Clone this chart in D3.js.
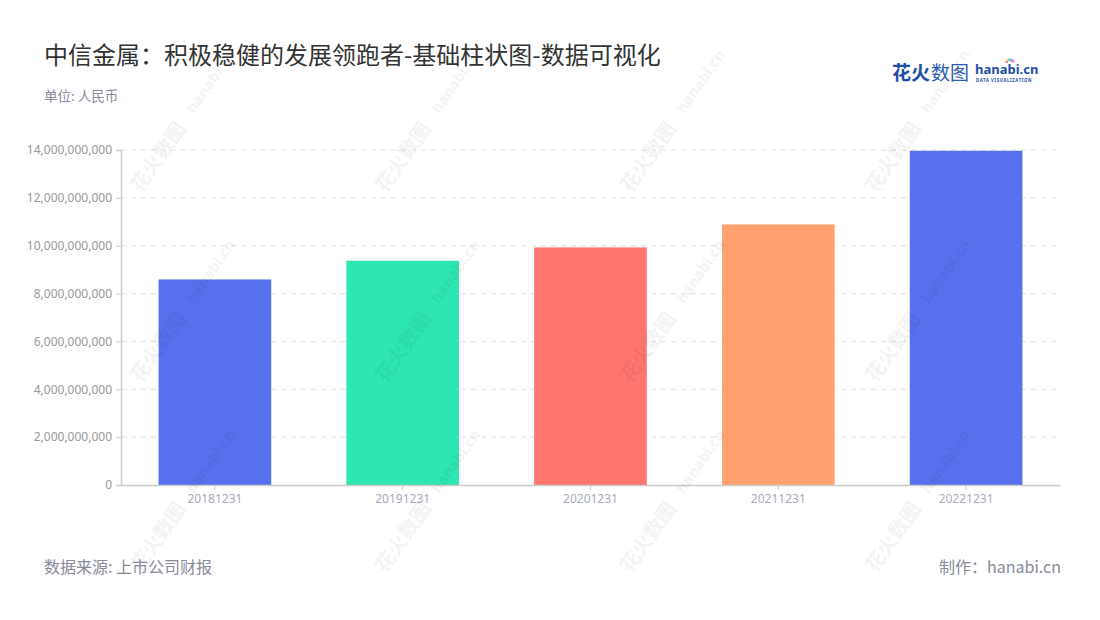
<!DOCTYPE html>
<html><head><meta charset="utf-8">
<script src="https://cdn.jsdelivr.net/npm/d3@7"></script>
<style>body{margin:0;background:#fff;}svg{display:block;font-family:"Noto Sans CJK SC","Noto Sans",sans-serif;}</style>
</head><body>
<svg id="c" width="1100" height="620"></svg>
<script>
const categories = ["20181231","20191231","20201231","20211231","20221231"];
const values = [8590000000, 9370000000, 9930000000, 10890000000, 13970000000];
const barColors = ["#5771ee","#2ee6b1","#ff7670","#ffa26f","#5771ee"];
const yTicks = [0,2000000000,4000000000,6000000000,8000000000,10000000000,12000000000,14000000000];

const svg = d3.select("#c");
const M = {left:121, right:1060, top:150, bottom:485};

const x = d3.scaleBand().domain(categories).range([M.left, M.right]).paddingInner(0.4).paddingOuter(0.2);
const y = d3.scaleLinear().domain([0, 14000000000]).range([M.bottom, M.top]);

// grid
svg.append("g").selectAll("line").data(yTicks.filter(d=>d>0)).join("line")
  .attr("x1", M.left).attr("x2", M.right).attr("y1", d=>y(d)).attr("y2", d=>y(d))
  .attr("stroke","#e0e0e0").attr("stroke-dasharray","5,5");

// bars
svg.append("g").selectAll("rect").data(values).join("rect")
  .attr("x",(d,i)=>x(categories[i])).attr("width",x.bandwidth())
  .attr("y",d=>y(d)).attr("height",d=>M.bottom-y(d))
  .attr("fill",(d,i)=>barColors[i]);

// y axis
const yAxis = d3.axisLeft(y).tickValues(yTicks).tickFormat(d3.format(",")).tickSize(5).tickPadding(4);
const yg = svg.append("g").attr("transform",`translate(${M.left},0)`).call(yAxis);
yg.select(".domain").attr("stroke","#ccc").attr("stroke-width",1.5);
yg.selectAll(".tick line").attr("stroke","#ccc");
yg.selectAll("text").attr("fill","#999").attr("font-size",12).attr("font-family","'Noto Sans',sans-serif");

// x axis
const xAxis = d3.axisBottom(x).tickSize(5).tickPadding(4).tickSizeOuter(0);
const xg = svg.append("g").attr("transform",`translate(0,${M.bottom})`).call(xAxis);
xg.select(".domain").attr("stroke","#ccc").attr("stroke-width",1.5);
xg.selectAll(".tick line").attr("stroke","#ccc");
xg.selectAll("text").attr("fill","#a9abbb").attr("font-size",12).attr("font-family","'Noto Sans',sans-serif");

// watermarks
const wm = svg.append("g").attr("pointer-events","none");
const wmX = [158, 403, 648, 893];
const wmY = [157, 347, 537];
wmX.forEach(cx => wmY.forEach(cy => {
  const g = wm.append("g").attr("transform", `translate(${cx},${cy}) rotate(-55)`);
  g.append("text").attr("x",0).attr("y",7).attr("text-anchor","middle").attr("font-size",20).attr("font-weight","bold")
    .attr("fill","#000").attr("opacity",0.045).text("花火数图");
  g.append("text").attr("x",92).attr("y",5).attr("text-anchor","middle").attr("font-size",15).attr("font-weight","bold")
    .attr("font-family","'Noto Sans',sans-serif").attr("fill","#000").attr("opacity",0.045).text("hanabi.cn");
}));

// title
svg.append("text").attr("x",44).attr("y",64).attr("font-size",24).attr("fill","#333")
  .text("中信金属：积极稳健的发展领跑者-基础柱状图-数据可视化");
svg.append("text").attr("x",44).attr("y",101).attr("font-size",13.5).attr("fill","#888a99")
  .text("单位: 人民币");

// footer
svg.append("text").attr("x",44).attr("y",573).attr("font-size",16).attr("fill","#888a99")
  .text("数据来源: 上市公司财报");
svg.append("text").attr("x",1061).attr("y",573).attr("font-size",16).attr("fill","#888a99")
  .attr("text-anchor","end").text("制作：hanabi.cn");

// logo
const lg = svg.append("g");
lg.append("text").attr("x",892).attr("y",80).attr("font-size",19).attr("font-weight","bold").attr("fill","#1e4fa3").text("花火");
lg.append("text").attr("x",931).attr("y",80).attr("font-size",19).attr("fill","#2a5db0").text("数图");
lg.append("text").attr("x",975).attr("y",74).attr("font-size",13).attr("font-weight","bold").attr("fill","#1e4fa3")
  .attr("font-family","'Noto Sans',sans-serif").text("hanabi.cn");
lg.append("text").attr("x",976).attr("y",81.5).attr("font-size",4.3).attr("font-weight","bold").attr("fill","#1e4fa3")
  .attr("font-family","'Noto Sans',sans-serif").attr("letter-spacing",0.6).text("DATA VISUALIZATION");
const sparkC = ["#ff5b5b","#ffb23c","#4cd964","#3cb4ff","#a65bff","#ff6bd5"];
sparkC.forEach((c,i)=>{
  const a = -Math.PI*0.9 + i*Math.PI*0.16;
  lg.append("line").attr("x1",1010+Math.cos(a)*2).attr("y1",63+Math.sin(a)*2)
    .attr("x2",1010+Math.cos(a)*5).attr("y2",63+Math.sin(a)*5).attr("stroke",c).attr("stroke-width",1.3);
});
</script>
</body></html>
